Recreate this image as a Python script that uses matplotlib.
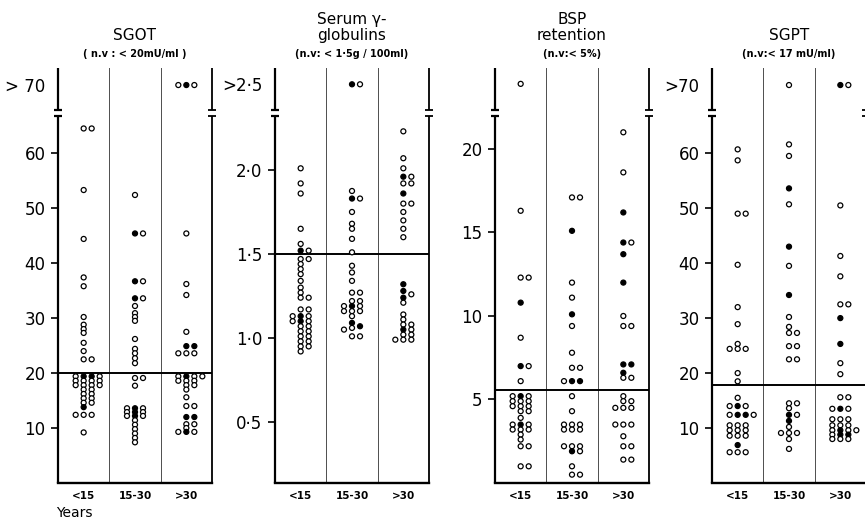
import numpy as np
import matplotlib.pyplot as plt

AGE_GROUPS = ['<15', '15-30', '>30']

# values per age group; open = open circles, filled = filled circles
# values above the break are written as >70 / >2.5 and drawn on the top row
sgot_open = [
  [64.5, 64.5, 53.3, 44.4, 37.4, 35.8, 30.2, 28.8, 28.0, 27.3, 25.5, 24.0, 22.5, 22.5,
   19.4, 19.4, 18.6, 18.6, 18.6, 18.6, 17.8, 17.8, 17.8, 17.8, 17.0, 17.0, 16.2, 16.2,
   15.4, 15.4, 14.6, 14.6, 12.4, 12.4, 12.4, 9.2],
  [52.4, 45.4, 36.7, 33.6, 32.2, 30.9, 30.2, 29.5, 26.2, 24.4, 23.6, 22.7, 21.8, 19.1, 19.1,
   17.7, 13.6, 13.6, 12.9, 12.9, 12.2, 12.2, 11.4, 10.6, 9.8, 9.0, 8.2, 7.4],
  [71, 71, 45.4, 36.2, 34.2, 27.5, 23.6, 23.6, 23.6, 19.4, 19.4, 19.4, 18.6, 18.6, 18.6,
   17.8, 17.8, 17.0, 15.6, 14.0, 14.0, 10.7, 10.7, 10.0, 9.3, 9.3],
]
sgot_filled = [
  [19.4, 19.4, 13.8],
  [45.4, 36.7, 33.6, 13.6, 12.9, 12.2],
  [71, 24.9, 24.9, 19.4, 12.0, 12.0, 9.3],
]

gamma_open = [
  [2.01, 1.92, 1.86, 1.65, 1.56, 1.52, 1.47, 1.47, 1.44, 1.41, 1.38, 1.34, 1.30, 1.27,
   1.24, 1.24, 1.17, 1.17, 1.13, 1.13, 1.10, 1.10, 1.07, 1.07, 1.04, 1.04, 1.01, 1.01,
   0.98, 0.98, 0.95, 0.95, 0.92],
  [2.6, 1.875, 1.83, 1.75, 1.68, 1.65, 1.59, 1.51, 1.43, 1.39, 1.34, 1.27, 1.27, 1.22, 1.22,
   1.19, 1.19, 1.16, 1.16, 1.16, 1.13, 1.06, 1.05, 1.01, 1.01],
  [2.23, 2.07, 2.01, 1.96, 1.92, 1.92, 1.80, 1.80, 1.75, 1.70, 1.65, 1.60, 1.26, 1.21, 1.14,
   1.11, 1.08, 1.08, 1.05, 1.02, 1.02, 0.99, 0.99, 0.99],
]
gamma_filled = [
  [1.52, 1.13, 1.10],
  [2.6, 1.83, 1.19, 1.09, 1.07],
  [1.96, 1.86, 1.32, 1.28, 1.24, 1.05],
]

bsp_open = [
  [23.9, 16.3, 12.3, 12.3, 8.7, 7.0, 6.1, 5.2, 5.2, 4.9, 4.9, 4.9, 4.6, 4.6, 4.6, 4.3, 4.3,
   3.9, 3.5, 3.5, 3.2, 3.2, 3.2, 2.9, 2.6, 2.2, 2.2, 1.0, 1.0],
  [17.1, 17.1, 12.0, 11.1, 9.4, 7.8, 6.9, 6.9, 6.1, 5.2, 4.3, 3.5, 3.5, 3.5, 3.2, 3.2, 3.2,
   2.2, 2.2, 2.2, 1.9, 1.0, 0.5, 0.5],
  [21.0, 18.6, 14.4, 10.0, 9.4, 9.4, 6.3, 6.3, 5.2, 4.9, 4.9, 4.5, 4.5, 4.5, 3.5, 3.5, 3.5,
   2.8, 2.2, 2.2, 1.4, 1.4],
]
bsp_filled = [
  [10.8, 7.0, 5.2, 3.5],
  [15.1, 10.1, 6.1, 6.1, 1.9],
  [16.2, 14.4, 13.7, 12.0, 7.1, 7.1, 6.6],
]

sgpt_open = [
  [60.7, 58.7, 49.0, 49.0, 39.7, 32.0, 28.9, 25.3, 24.4, 24.4, 24.4, 20.0, 18.5, 15.5, 14.0,
   14.0, 12.4, 12.4, 10.5, 10.5, 10.5, 9.6, 9.6, 9.6, 8.6, 8.6, 8.6, 5.6, 5.6, 5.6],
  [71, 61.6, 59.5, 50.7, 39.5, 30.2, 28.4, 27.3, 27.3, 24.9, 24.9, 22.5, 22.5, 14.5, 14.5,
   13.6, 12.4, 10.2, 9.1, 9.1, 9.1, 8.0, 6.2],
  [71, 50.5, 41.3, 37.6, 32.5, 32.5, 21.8, 19.8, 15.6, 15.6, 13.5, 13.5, 11.6, 11.6, 11.6,
   10.5, 10.5, 10.5, 9.6, 9.6, 9.6, 8.8, 8.0, 8.0, 8.0],
]
sgpt_filled = [
  [14.0, 12.4, 12.4, 6.9],
  [53.6, 43.0, 34.2, 12.4, 11.3],
  [71, 30.0, 25.3, 13.5, 9.6, 8.8, 8.8],
]

sgot_ticks = [10, 20, 30, 40, 50, 60]
gamma_ticks = [0.5, 1.0, 1.5, 2.0]
bsp_ticks = [5, 10, 15, 20]
sgpt_ticks = [10, 20, 30, 40, 50, 60]

panels = [
  dict(title='SGOT', note='( n.v : < 20mU/ml )', opn=sgot_open, fil=sgot_filled,
       ylim=(0, 75.5), ticks=sgot_ticks, labels=[str(t) for t in sgot_ticks],
       over=70, over_pos=72.4, over_label='> 70', normal=20, left=58),
  dict(title='Serum γ-\nglobulins', note='(n.v: < 1·5g / 100ml)', opn=gamma_open, fil=gamma_filled,
       ylim=(0.137, 2.607), ticks=gamma_ticks, labels=['0·5', '1·0', '1·5', '2·0'],
       over=2.5, over_pos=2.51, over_label='>2·5', normal=1.5, left=275),
  dict(title='BSP\nretention', note='(n.v:< 5%)', opn=bsp_open, fil=bsp_filled,
       ylim=(0, 24.85), ticks=bsp_ticks, labels=[str(t) for t in bsp_ticks],
       over=None, over_pos=None, over_label=None, normal=5.55, left=495),
  dict(title='SGPT', note='(n.v:< 17 mU/ml)', opn=sgpt_open, fil=sgpt_filled,
       ylim=(0, 75.5), ticks=sgpt_ticks, labels=[str(t) for t in sgpt_ticks],
       over=70, over_pos=72.4, over_label='>70', normal=17.8, left=712),
]

W, H = 865, 524
AX_W, AX_H, AX_BOT = 154, 415, 483
BRK_LO, BRK_HI = 0.884, 0.899


def swarm(vals, ppu, gap=3.5, step=0.156):
  placed = []
  xs = []
  for v in vals:
    for k in (0, 1, -1, 2, -2, 3, -3):
      if all(abs(v - pv) * ppu >= gap for pk, pv in placed if pk == k):
        break
    placed.append((k, v))
    xs.append(k * step)
  return np.array(xs)


def broken_spine(ax, x, lw=1.6):
  kw = dict(transform=ax.transAxes, clip_on=False, color='black', lw=lw, solid_capstyle='butt')
  ax.plot([x, x], [0, BRK_LO], **kw)
  ax.plot([x, x], [BRK_HI, 1], **kw)
  for yb in (BRK_LO, BRK_HI):
    ax.plot([x - 0.027, x + 0.027], [yb, yb], **kw)


fig = plt.figure(figsize=(W / 100, H / 100), dpi=100)

for p in panels:
  ax = fig.add_axes([p['left'] / W, 1 - AX_BOT / H, AX_W / W, AX_H / H])
  y0, y1 = p['ylim']
  ppu = AX_H / (y1 - y0)

  for i in range(3):
    vals = [(v, True) for v in p['fil'][i]] + [(v, False) for v in p['opn'][i]]
    vals.sort(key=lambda t: -t[0])
    ys = np.array([p['over_pos'] if (p['over'] is not None and v > p['over']) else v for v, _ in vals])
    xs = i + 0.5 + swarm(ys, ppu)
    fc = ['black' if f else 'white' for _, f in vals]
    ax.scatter(xs, ys, s=13, facecolors=fc, edgecolors='black', linewidths=0.9, zorder=3)

  ax.axhline(p['normal'], color='black', lw=1.4, zorder=2)
  for xv in (1, 2):
    ax.axvline(xv, color='0.3', lw=0.7, zorder=1)

  ax.set_xlim(0, 3)
  ax.set_ylim(y0, y1)
  for s in ('left', 'right', 'top'):
    ax.spines[s].set_visible(False)
  ax.spines['bottom'].set_linewidth(1.7)
  broken_spine(ax, 0)
  broken_spine(ax, 1, lw=1.3)

  ticks = list(p['ticks'])
  labels = list(p['labels'])
  if p['over_label']:
    ticks.append(p['over_pos'])
    labels.append(p['over_label'])
  ax.set_yticks(ticks)
  ax.set_yticklabels(labels)
  ax.tick_params(axis='y', direction='out', length=5, width=1.2, labelsize=12, pad=4)
  if p['over_label']:
    ax.yaxis.get_major_ticks()[-1].tick1line.set_visible(False)

  ax.set_xticks([0.5, 1.5, 2.5])
  ax.set_xticklabels(AGE_GROUPS, fontsize=7.5, fontweight='bold')
  ax.tick_params(axis='x', length=0, pad=6)

  ax.text(0.5, 1.068, p['title'], transform=ax.transAxes, ha='center', va='baseline',
          fontsize=11, linespacing=1.05)
  ax.text(0.5, 1.034, p['note'], transform=ax.transAxes, ha='center', va='center',
          fontsize=7, fontweight='bold')

  if p['left'] == 58:
    ax.text(0.104, -0.072, 'Years', transform=ax.transAxes, ha='center', va='center', fontsize=10)

fig.savefig('out.png', dpi=100)
